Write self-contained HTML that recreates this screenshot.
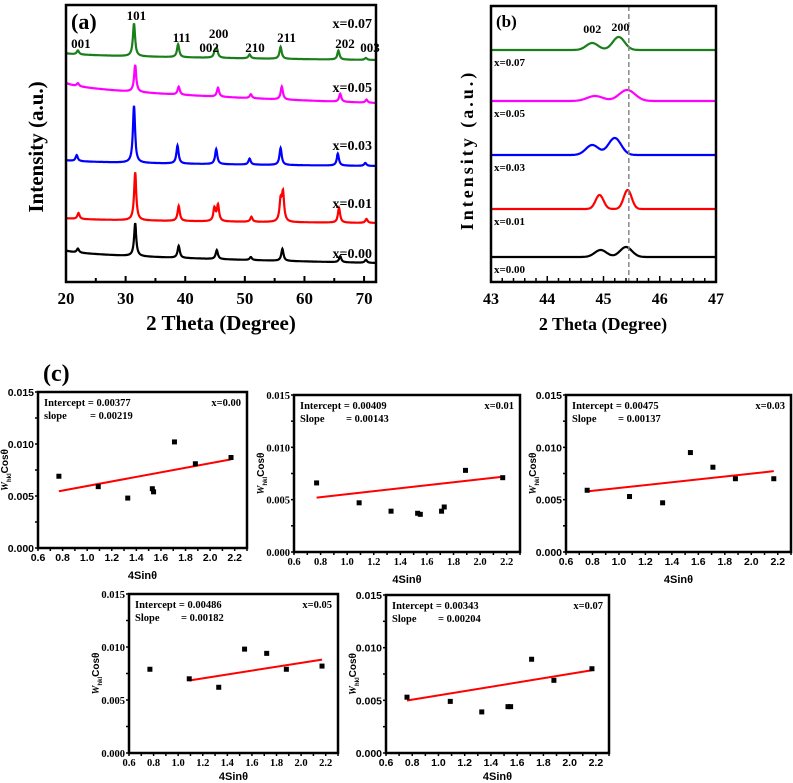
<!DOCTYPE html>
<html><head><meta charset="utf-8"><style>
html,body{margin:0;padding:0;background:#fff;}
svg{display:block;}
text{font-family:"Liberation Serif",serif;font-weight:bold;fill:#000;}
.sans{font-family:"Liberation Sans",sans-serif;}
</style></head><body>
<svg id="fig" width="793" height="783" viewBox="0 0 793 783" xmlns="http://www.w3.org/2000/svg">
</svg>
<script>
// ---------- Panel (a) data ----------
var aSeries = ["x=0.07","x=0.05","x=0.03","x=0.01","x=0.00"];
var aColors = ["#1a7f1a","#ff00ff","#0000ff","#ff0000","#000000"];
var aBaseStart = [53, 82, 160, 218, 250];
var aBaseEnd = [60, 103, 166, 223, 263];
var aLabelY = [23, 87, 145, 203, 253];
var aPeakPos = [
 [22,31.4,38.8,45.0,45.3,50.8,56.0,65.7,70.3],
 [22,31.6,38.9,45.5,51.0,56.2,66.0,70.4],
 [21.8,31.4,38.7,45.2,50.8,56.0,65.6,70.2],
 [22.1,31.6,38.9,44.9,45.5,51.1,56.0,56.4,65.8,70.4],
 [22,31.6,38.9,45.3,51.0,56.3,66.0,70.3]];
var aPeakH = [
 [4,33,13,6,8,4,12,9,2],
 [3,27,8,9,4,13,8,3],
 [6,57,18,15,6,17,12,3],
 [6,48,15,13,16,5,20,28,15,4],
 [4,33,12,9,3,12,6,3]];
var aHkl = ["001","101","111","002","200","210","211","202","003"];
var aHklX = [22.5,31.8,39.4,44.0,45.6,51.7,57.0,66.8,71.0];
var aHklY = [43,15,37,47,33,47,37,43,47];
// ---------- Panel (b) data ----------
var bBase = [50,101,155,209,257];
var bPeakPos = [[44.8,45.27],[44.85,45.42],[44.8,45.2],[44.93,45.43],[44.95,45.4]];
var bPeakH = [[7,13],[5,11],[10,17],[14,19],[7,10]];
var bPeakW = [0.15,0.2,0.16,0.1,0.15];
var bDash = 45.45;
// ---------- Panel (c) data ----------
var cLabels = ["x=0.00","x=0.01","x=0.03","x=0.05","x=0.07"];
var cIntercept = [0.00377,0.00409,0.00475,0.00486,0.00343];
var cSlope = [0.00219,0.00143,0.00137,0.00182,0.00204];
var cInterceptTxt = ["0.00377","0.00409","0.00475","0.00486","0.00343"];
var cSlopeTxt = ["0.00219","0.00143","0.00137","0.00182","0.00204"];
var cSlopeWord = ["slope","Slope","Slope","Slope","Slope"];
var cX = [
 [0.77,1.09,1.33,1.53,1.54,1.71,1.88,2.17],
 [0.77,1.09,1.33,1.53,1.55,1.71,1.73,1.89,2.17],
 [0.76,1.08,1.33,1.54,1.71,1.88,2.17],
 [0.77,1.09,1.33,1.54,1.72,1.88,2.17],
 [0.76,1.09,1.33,1.53,1.55,1.71,1.88,2.17]];
var cY = [
 [0.0069,0.0059,0.0048,0.0057,0.0054,0.0102,0.0081,0.0087],
 [0.0066,0.0047,0.0039,0.0037,0.0036,0.0039,0.0043,0.0078,0.0071],
 [0.0059,0.0053,0.0047,0.0095,0.0081,0.0070,0.0070],
 [0.0079,0.0070,0.0062,0.0098,0.0094,0.0079,0.0082],
 [0.0053,0.0049,0.0039,0.0044,0.0044,0.0089,0.0069,0.0080]];
var cFitStart = [0.77,0.77,0.76,1.09,0.76];
var cFitEnd = [2.17,2.17,2.17,2.17,2.17];
var cXTicks = [0.6,0.8,1.0,1.2,1.4,1.6,1.8,2.0,2.2];
var cYTicks = [0.000,0.005,0.010,0.015];

var NS="http://www.w3.org/2000/svg";
var svgRoot=document.getElementById('fig');
function mk(tag,attrs,parent){var e=document.createElementNS(NS,tag);for(var k in attrs){e.setAttribute(k,attrs[k]);}(parent||svgRoot).appendChild(e);return e;}
function txt(s,attrs,parent){var e=mk('text',attrs,parent);e.textContent=s;return e;}
function nm(e,n){return e;}

// ===== Panel (a) =====
try{
var A={l:66,r:376,t:5,b:282,x0:20,x1:72};
var ax=function(v){return A.l+(v-A.x0)/(A.x1-A.x0)*(A.r-A.l);};
var gA=mk('g',{});


aSeries.forEach(function(name,i){
  var d='';
  for(var x=A.x0;x<=A.x1+0.001;x+=0.05){
    var f=(x-A.x0)/(A.x1-A.x0);
    var y=aBaseStart[i]+(aBaseEnd[i]-aBaseStart[i])*Math.sqrt(f);
    for(var j=0;j<aPeakPos[i].length;j++){var q=(x-aPeakPos[i][j])/0.22;y-=aPeakH[i][j]/(1+q*q);}
    d+=(d?'L':'M')+ax(x).toFixed(1)+','+y.toFixed(1);
  }
  var p=mk('path',{d:d,fill:'none',stroke:aColors[i],'stroke-width':2.2},gA);
  
  
  var t=txt(name,{x:372,y:aLabelY[i]+5,'font-size':14,'text-anchor':'end'},gA);
  
  
});
aHkl.forEach(function(h,j){
  var t=txt(h,{x:ax(aHklX[j]),y:aHklY[j]+5,'font-size':13,'text-anchor':'middle'},gA);
  
  
});
nm(mk('rect',{x:A.l,y:A.t,width:A.r-A.l,height:A.b-A.t,fill:'none',stroke:'#000','stroke-width':2.5},gA),'panel-a-frame');
for(var v=20;v<=72;v+=5){mk('line',{x1:ax(v),x2:ax(v),y1:A.b,y2:A.b-(v%10==0?6:4),stroke:'#000','stroke-width':2},gA);}
for(var v2=20;v2<=70;v2+=10){nm(txt(String(v2),{x:ax(v2),y:304,'font-size':17,'text-anchor':'middle'},gA),'a-xtick');}
nm(txt('(a)',{x:71,y:29,'font-size':22},gA),'panel-a-label');
nm(txt('2 Theta (Degree)',{x:221,y:330,'font-size':21,'text-anchor':'middle'},gA),'a-x-axis-title');
nm(txt('Intensity (a.u.)',{x:0,y:0,'font-size':21,'text-anchor':'middle',transform:'translate(43,147) rotate(-90)'},gA),'a-y-axis-title');
}catch(e){console.log(e);}

// ===== Panel (b) =====
try{
var B={l:491,r:716,t:6,b:282,x0:43,x1:47};
var bxf=function(v){return B.l+(v-B.x0)/(B.x1-B.x0)*(B.r-B.l);};
var gB=mk('g',{});


bBase.forEach(function(base,i){
  var d='';
  for(var x=B.x0;x<=B.x1+0.001;x+=0.01){
    var y=base;
    for(var j=0;j<bPeakPos[i].length;j++){var q=(x-bPeakPos[i][j])/bPeakW[i];y-=bPeakH[i][j]*Math.exp(-q*q);}
    d+=(d?'L':'M')+bxf(x).toFixed(1)+','+y.toFixed(1);
  }
  var p=mk('path',{d:d,fill:'none',stroke:aColors[i],'stroke-width':2.2},gB);
  
  
  var t=txt(aSeries[i],{x:494,y:base+16,'font-size':11},gB);
  
  
});
nm(mk('line',{x1:bxf(bDash),x2:bxf(bDash),y1:B.t,y2:B.b,stroke:'#888','stroke-width':1.5,'stroke-dasharray':'5,3'},gB),'reference-dashed-line');
nm(txt('002',{x:bxf(44.8),y:33,'font-size':12,'text-anchor':'middle'},gB),'b-hkl-002');
nm(txt('200',{x:bxf(45.3),y:31,'font-size':12,'text-anchor':'middle'},gB),'b-hkl-200');
nm(mk('rect',{x:B.l,y:B.t,width:B.r-B.l,height:B.b-B.t,fill:'none',stroke:'#000','stroke-width':2.5},gB),'panel-b-frame');
for(var i3=0;i3<=20;i3++){var vv=43+i3*0.2;mk('line',{x1:bxf(vv),x2:bxf(vv),y1:B.b,y2:B.b-(i3%5==0?6:4),stroke:'#000','stroke-width':1.5},gB);}
for(var v3=43;v3<=47;v3++){nm(txt(String(v3),{x:bxf(v3),y:304,'font-size':16,'text-anchor':'middle'},gB),'b-xtick');}
nm(txt('(b)',{x:496,y:27,'font-size':17,'font-weight':'normal'},gB),'panel-b-label');
nm(txt('2 Theta (Degree)',{x:603,y:330,'font-size':18,'text-anchor':'middle'},gB),'b-x-axis-title');
nm(txt('Intensity (a.u.)',{x:0,y:0,'font-size':18,'text-anchor':'middle','letter-spacing':3,transform:'translate(473,150) rotate(-90)'},gB),'b-y-axis-title');
}catch(e){console.log(e);}

try{nm(txt('(c)',{x:43,y:381,'font-size':24}),'panel-c-label');}catch(e){}

// ===== Panel (c) =====
try{
var cBoxes=[{l:38,r:247,t:392,b:548},{l:294,r:520,t:395,b:552},{l:566,r:791,t:395,b:552},{l:129,r:338,t:594,b:753},{l:386,r:609,t:595,b:753}];
cBoxes.forEach(function(bb,k){
  var g=mk('g',{});
  
  
  var sx=function(v){return bb.l+(v-0.6)/1.7*(bb.r-bb.l);};
  var sy=function(v){return bb.b-v/0.015*(bb.b-bb.t);};
  nm(mk('rect',{x:bb.l,y:bb.t,width:bb.r-bb.l,height:bb.b-bb.t,fill:'none',stroke:'#000','stroke-width':2.5},g),'plot-frame');
  for(var i=0;i<=17;i++){var xv=sx(0.6+i*0.1);mk('line',{x1:xv,x2:xv,y1:bb.b,y2:bb.b+3,stroke:'#000','stroke-width':1.5},g);}
  for(var i2=0;i2<=6;i2++){var yv=sy(i2*0.0025);mk('line',{x1:bb.l,x2:bb.l-3,y1:yv,y2:yv,stroke:'#000','stroke-width':1.5},g);}
  var serifTicks=(k==1||k==3);
  var cls=serifTicks?'':'sans';
  cXTicks.forEach(function(v){nm(txt(v.toFixed(1),{x:sx(v),y:bb.b+13,'font-size':10.5,'text-anchor':'middle','class':cls},g),'x-tick');});
  cYTicks.forEach(function(v){nm(txt(v.toFixed(3),{x:bb.l-4,y:sy(v)+4,'font-size':10.5,'text-anchor':'end','class':cls},g),'y-tick');});
  nm(txt('4Sinθ',{x:(bb.l+bb.r)/2,y:bb.b+(k<3?31:27),'font-size':11,'text-anchor':'middle','class':'sans'},g),'x-axis-title');
  var yt=mk('text',{x:0,y:0,'font-size':10,'text-anchor':'middle','class':'sans',transform:'translate('+(bb.l-30)+','+((bb.t+bb.b)/2)+') rotate(-90)'},g);
  nm(yt,'y-axis-title');
  var s1=mk('tspan',{'font-style':'italic','font-family':'Liberation Serif'},yt);s1.textContent='W';
  var s2=mk('tspan',{'font-size':6,dy:3},yt);s2.textContent='hkl';
  var s3=mk('tspan',{dy:-3},yt);s3.textContent='Cosθ';
  nm(mk('line',{x1:sx(cFitStart[k]),y1:sy(cIntercept[k]+cSlope[k]*cFitStart[k]),x2:sx(cFitEnd[k]),y2:sy(cIntercept[k]+cSlope[k]*cFitEnd[k]),stroke:'#ff0000','stroke-width':2},g),'fit-line');
  cX[k].forEach(function(xv,j){
    var r=mk('rect',{x:sx(xv)-2.5,y:sy(cY[k][j])-2.5,width:5,height:5,fill:'#000'},g);
    
    
  });
  nm(txt('Intercept = '+cInterceptTxt[k],{x:bb.l+6,y:bb.t+14,'font-size':10.5},g),'intercept-text');
  nm(txt(cSlopeWord[k],{x:bb.l+6,y:bb.t+27,'font-size':10.5},g),'slope-text');
  nm(txt('= '+cSlopeTxt[k],{x:bb.l+52,y:bb.t+27,'font-size':10.5},g),'slope-value');
  nm(txt(cLabels[k],{x:bb.r-6,y:bb.t+14,'font-size':10.5,'text-anchor':'end'},g),'composition-label');
});
}catch(e){console.log(e);}
</script>
</body></html>
